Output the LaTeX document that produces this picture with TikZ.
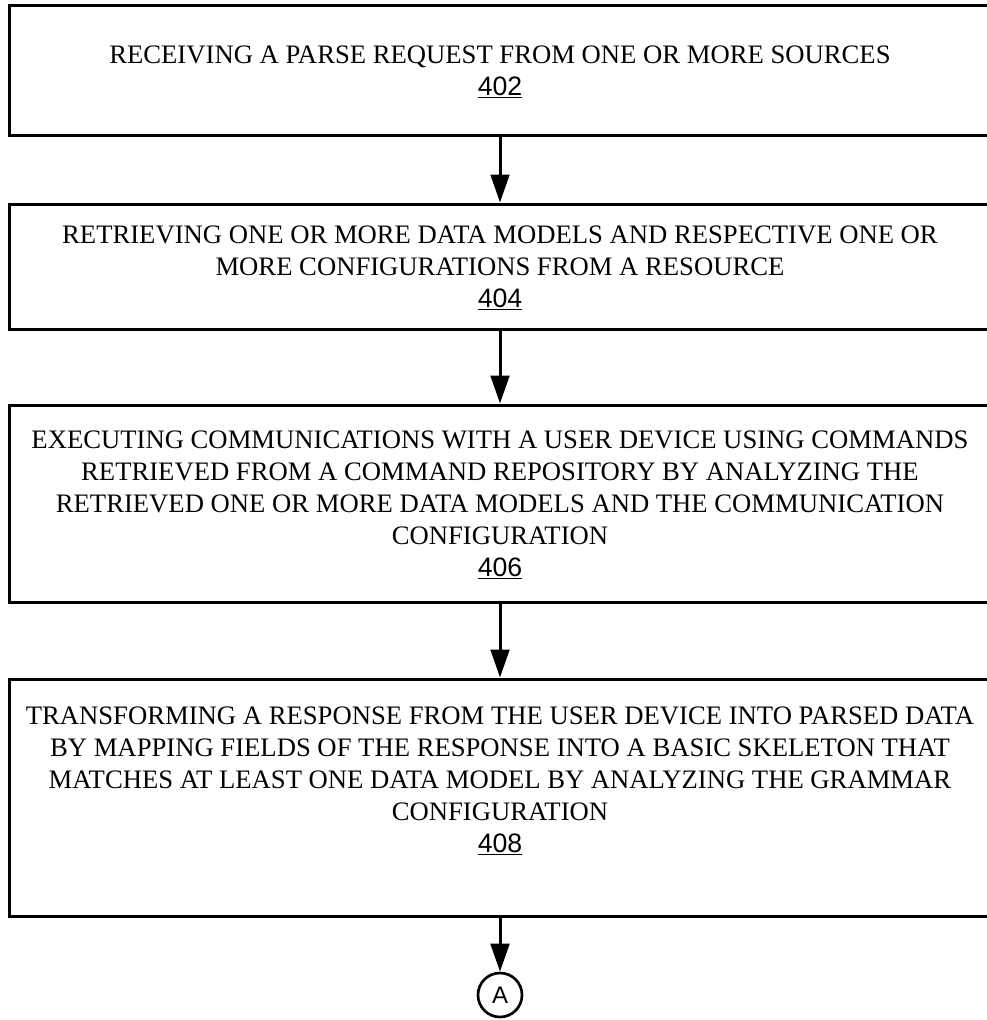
\documentclass[tikz,border=0pt]{standalone}
\usepackage{fontspec}
\setmainfont{Liberation Serif}
\newfontfamily\refnum{Liberation Sans}
\usetikzlibrary{arrows.meta}
\begin{document}
\begin{tikzpicture}[x=.75pt,y=-.75pt,line width=2.25pt,
  stepbox/.style={draw,rectangle,minimum width=735.75pt,inner sep=0pt},
  steptext/.style={align=center,inner sep=0pt,font=\fontsize{20}{24}\selectfont},
  flow/.style={-{Triangle[length=21pt,width=14pt]}}]
  \useasboundingbox (0,0) rectangle (987,1020);
  \node[stepbox,minimum height=97.5pt] (s402) at (500,71) {};
  \node[stepbox,minimum height=93.75pt] (s404) at (500,266.5) {};
  \node[stepbox,minimum height=147.75pt] (s406) at (500,503.5) {};
  \node[stepbox,minimum height=177.75pt] (s408) at (500,797.5) {};
  \node[steptext] (t402) at (500,72) {RECEIVING A PARSE REQUEST FROM ONE OR MORE SOURCES\\{\refnum\underline{402}}};
  \node[steptext] (t404) at (500,268) {RETRIEVING ONE OR MORE DATA MODELS AND RESPECTIVE ONE OR\\MORE CONFIGURATIONS FROM A RESOURCE\\{\refnum\underline{404}}};
  \node[steptext] (t406) at (500,505) {EXECUTING COMMUNICATIONS WITH A USER DEVICE USING COMMANDS\\RETRIEVED FROM A COMMAND REPOSITORY BY ANALYZING THE\\RETRIEVED ONE OR MORE DATA MODELS AND THE COMMUNICATION\\CONFIGURATION\\{\refnum\underline{406}}};
  \node[steptext] (t408) at (500,781) {TRANSFORMING A RESPONSE FROM THE USER DEVICE INTO PARSED DATA\\BY MAPPING FIELDS OF THE RESPONSE INTO A BASIC SKELETON THAT\\MATCHES AT LEAST ONE DATA MODEL BY ANALYZING THE GRAMMAR\\CONFIGURATION\\{\refnum\underline{408}}};
  \node[draw,circle,line width=2pt,minimum size=33pt,inner sep=0pt,font=\refnum\fontsize{18}{18}\selectfont] (conA) at (500,995) {A};
  \draw[flow] (s402) -- (s404);
  \draw[flow] (s404) -- (s406);
  \draw[flow] (s406) -- (s408);
  \draw[flow] (s408) -- (conA);
\end{tikzpicture}
\end{document}
